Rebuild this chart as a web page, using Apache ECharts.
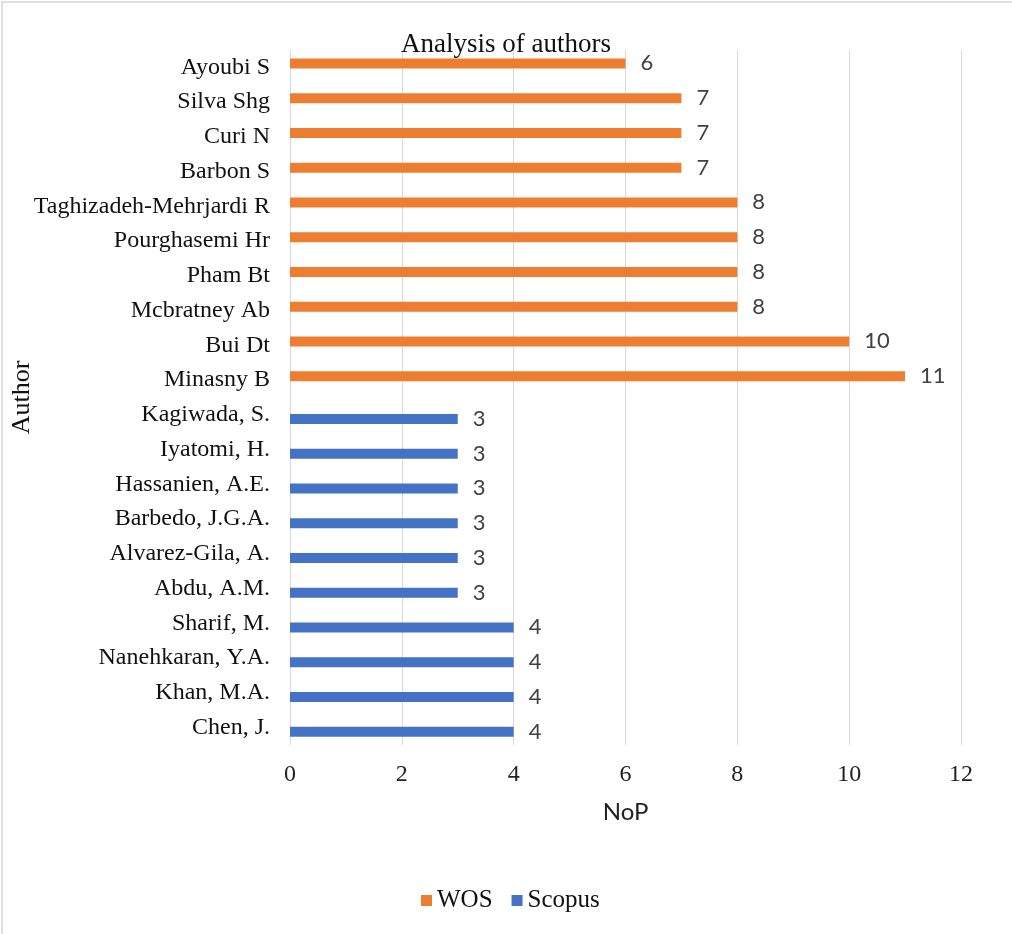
<!DOCTYPE html>
<html>
<head>
<meta charset="utf-8">
<script src="https://cdn.jsdelivr.net/npm/echarts@6/dist/echarts.min.js"></script>
<style>
html,body{margin:0;padding:0;background:#fff;}
#wrap{position:relative;width:1012px;height:934px;overflow:hidden;}
#chart{position:absolute;left:0;top:0;width:1012px;height:934px;}
#frame{position:absolute;left:1px;top:1px;width:1100px;height:1100px;border-top:2px solid #e0e0e0;border-left:2px solid #e0e0e0;pointer-events:none;}
</style>
</head>
<body>
<div id="wrap"><div id="chart"></div><div id="frame"></div></div>
<script>
const categories = ["Ayoubi S","Silva Shg","Curi N","Barbon S","Taghizadeh-Mehrjardi R","Pourghasemi Hr","Pham Bt","Mcbratney Ab","Bui Dt","Minasny B","Kagiwada, S.","Iyatomi, H.","Hassanien, A.E.","Barbedo, J.G.A.","Alvarez-Gila, A.","Abdu, A.M.","Sharif, M.","Nanehkaran, Y.A.","Khan, M.A.","Chen, J."];
const wosValues = [6,7,7,7,8,8,8,8,10,11,null,null,null,null,null,null,null,null,null,null];
const scopusValues = [null,null,null,null,null,null,null,null,null,null,3,3,3,3,3,3,4,4,4,4];
const xTicks = [0,2,4,6,8,10,12];

const serif = '"Liberation Serif","Times New Roman",serif';
const sans = 'Lato,"Noto Sans",sans-serif';
const chart = echarts.init(document.getElementById('chart'));
chart.setOption({
  animation:false,
  title:{text:'Analysis of authors',left:'center',top:26,textStyle:{fontFamily:serif,fontSize:27,fontWeight:'normal',color:'#111'}},
  legend:{bottom:16,left:416,itemWidth:11,itemHeight:11,itemGap:19,icon:'rect',
    textStyle:{fontFamily:serif,fontSize:25,color:'#111'},data:['WOS','Scopus']},
  grid:{left:290,right:51,top:50,bottom:189,containLabel:false,outerBoundsMode:'none'},
  xAxis:{type:'value',min:xTicks[0],max:xTicks[xTicks.length-1],interval:2,
    name:'NoP',nameLocation:'middle',nameGap:55,nameMoveOverlap:false,nameTextStyle:{fontFamily:sans,fontSize:24,color:'#222'},
    axisLine:{show:false},axisTick:{show:false},
    axisLabel:{fontFamily:serif,fontSize:24,color:'#222',margin:18},
    splitLine:{lineStyle:{color:'#d9d9d9',width:1}}},
  yAxis:{type:'category',data:categories,inverse:true,
    name:'Author',nameLocation:'middle',nameRotate:90,nameGap:255,nameMoveOverlap:false,nameTextStyle:{fontFamily:serif,fontSize:26,color:'#111'},
    axisLine:{show:false},axisTick:{show:false},
    axisLabel:{fontFamily:serif,fontSize:24,color:'#111',margin:20}},
  series:[
    {name:'WOS',type:'bar',data:wosValues,barWidth:10,barGap:'-20%',itemStyle:{color:'#ED7D31'},
      label:{show:true,position:'right',distance:15,fontFamily:sans,fontSize:22,color:'#404040'}},
    {name:'Scopus',type:'bar',data:scopusValues,barWidth:10,barGap:'-20%',itemStyle:{color:'#4472C4'},
      label:{show:true,position:'right',distance:15,fontFamily:sans,fontSize:22,color:'#404040'}}
  ]
});
</script>
</body>
</html>
